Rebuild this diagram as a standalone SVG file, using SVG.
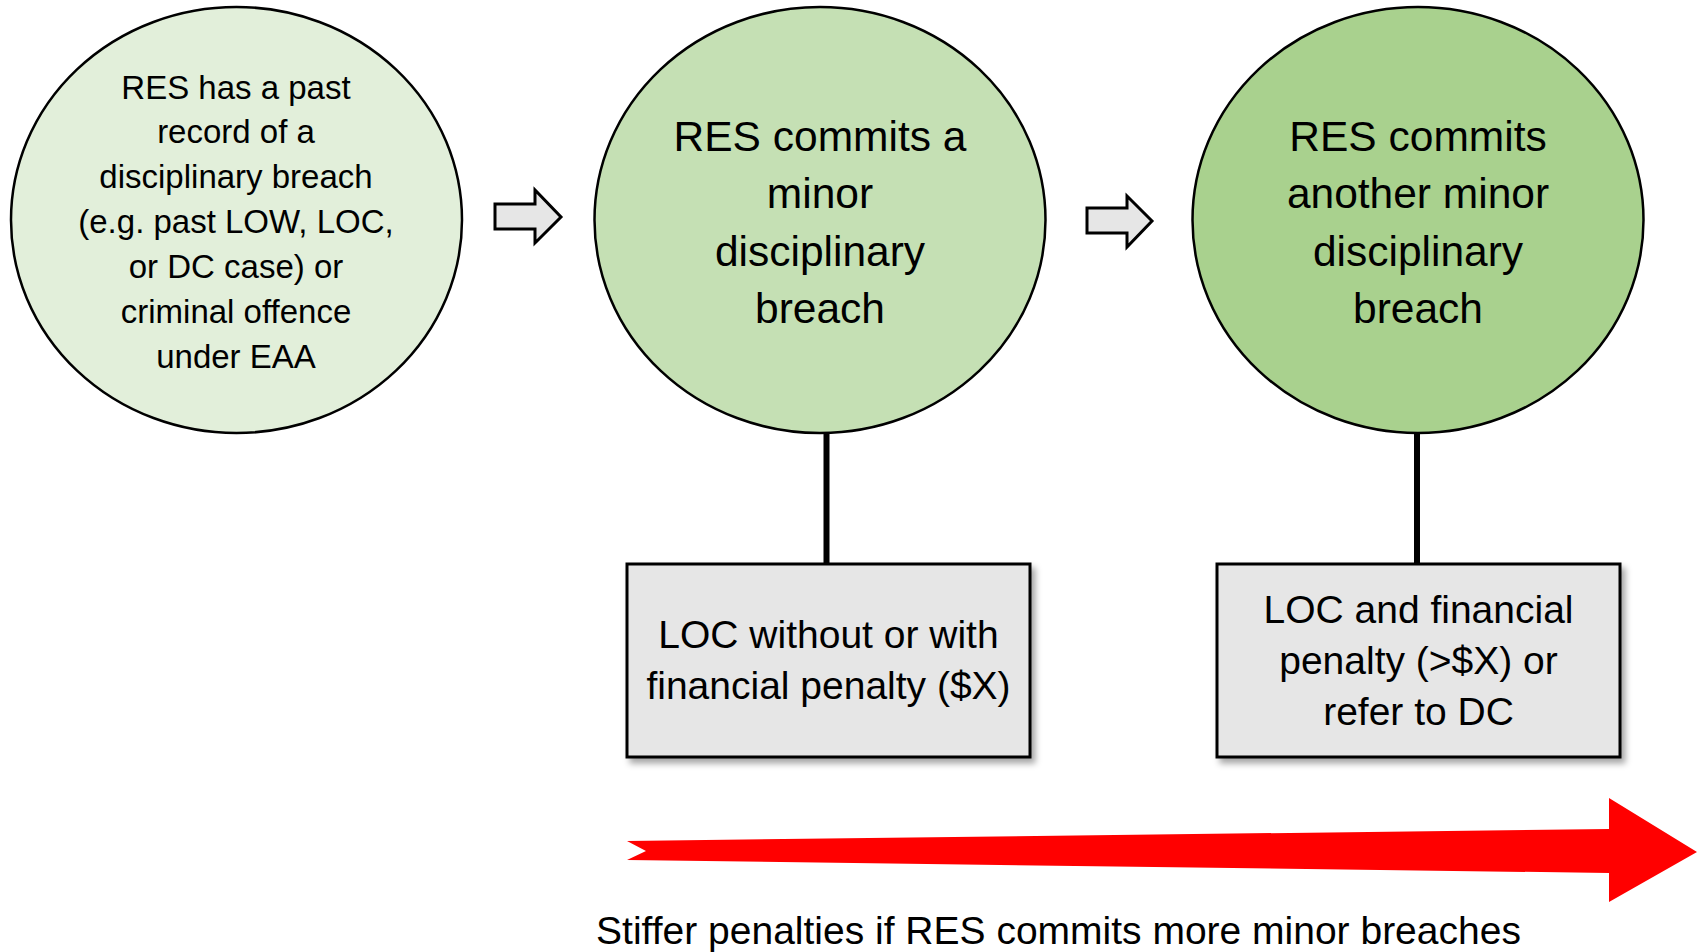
<svg xmlns="http://www.w3.org/2000/svg" width="1703" height="952" viewBox="0 0 1703 952">
<defs>
<style>
.t{font-family:"Liberation Sans",Arial,sans-serif;fill:#000;text-anchor:middle}
.c{stroke:#000;stroke-width:2.5}
.box{fill:#E6E6E6;stroke:#000;stroke-width:3}
.sa{fill:#E6E6E6;stroke:#000;stroke-width:3;stroke-linejoin:miter}
.vl{stroke:#000;stroke-width:6}
</style>
<filter id="sh" x="-10%" y="-10%" width="125%" height="130%">
<feDropShadow dx="4" dy="5" stdDeviation="3" flood-color="#000" flood-opacity="0.35"/>
</filter>
</defs>
<rect width="1703" height="952" fill="#fff"/>
<g id="connectors">
<line class="vl" x1="826.5" y1="432" x2="826.5" y2="565"/>
<line class="vl" x1="1417" y1="432" x2="1417" y2="565"/>
<polygon id="arrow1" class="sa" points="495,204 535,204 535,190 561,217 535,243 535,229 495,229"/>
<polygon id="arrow2" class="sa" points="1087,208 1127,208 1127,196 1152,221 1127,247 1127,233 1087,233"/>
</g>
<g id="node1">
<ellipse class="c" cx="236.5" cy="220" rx="225.5" ry="213" fill="#E2EFDA"/>
<text class="t" font-size="33"><tspan x="236" y="99">RES has a past</tspan><tspan x="236" y="143">record of a</tspan><tspan x="236" y="188">disciplinary breach</tspan><tspan x="236" y="233">(e.g. past LOW, LOC,</tspan><tspan x="236" y="278">or DC case) or</tspan><tspan x="236" y="323">criminal offence</tspan><tspan x="236" y="368">under EAA</tspan></text>
</g>
<g id="node2">
<ellipse class="c" cx="820" cy="220" rx="225.5" ry="213" fill="#C5E0B4"/>
<text class="t" font-size="42.5"><tspan x="820" y="151">RES commits a</tspan><tspan x="820" y="208">minor</tspan><tspan x="820" y="266">disciplinary</tspan><tspan x="820" y="323">breach</tspan></text>
</g>
<g id="node3">
<ellipse class="c" cx="1418" cy="220" rx="225.5" ry="213" fill="#A9D18E"/>
<text class="t" font-size="42.5"><tspan x="1418" y="151">RES commits</tspan><tspan x="1418" y="208">another minor</tspan><tspan x="1418" y="266">disciplinary</tspan><tspan x="1418" y="323">breach</tspan></text>
</g>
<g id="box1">
<rect class="box" x="627" y="564" width="403" height="193" filter="url(#sh)"/>
<text class="t" font-size="39"><tspan x="828.5" y="648">LOC without or with</tspan><tspan x="828.5" y="699">financial penalty ($X)</tspan></text>
</g>
<g id="box2">
<rect class="box" x="1217" y="564" width="403" height="193" filter="url(#sh)"/>
<text class="t" font-size="39"><tspan x="1418.5" y="623">LOC and financial</tspan><tspan x="1418.5" y="674">penalty (&gt;$X) or</tspan><tspan x="1418.5" y="725">refer to DC</tspan></text>
</g>
<g id="redarrow">
<polygon fill="#FF0000" points="627,841 1609,829 1609,798 1697,852 1609,902 1609,873 627,860 646,851"/>
<text class="t" font-size="39" x="1058.5" y="944">Stiffer penalties if RES commits more minor breaches</text>
</g>
</svg>
